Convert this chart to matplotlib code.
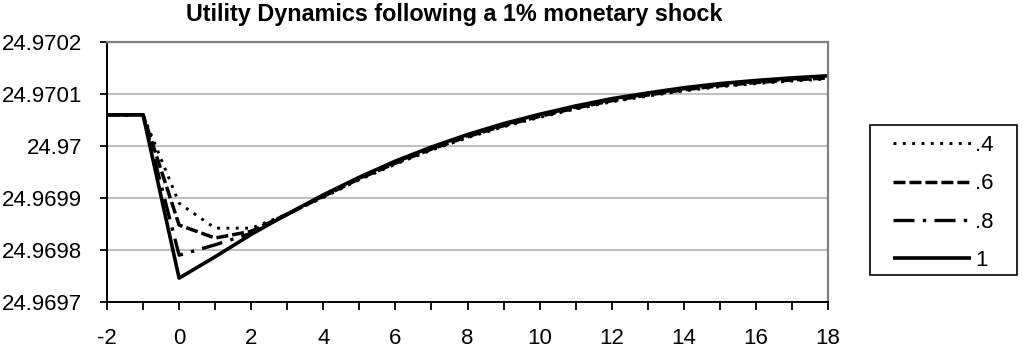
import matplotlib
matplotlib.use("Agg")
import matplotlib.pyplot as plt
from matplotlib.ticker import MultipleLocator, FuncFormatter
from matplotlib.patches import Rectangle

plt.rcParams['font.family'] = ['Liberation Sans', 'DejaVu Sans']
plt.rcParams['axes.unicode_minus'] = False

periods = list(range(-2, 19))
labels = [".4", ".6", ".8", "1"]
u_04 = [24.97006, 24.97006, 24.969890, 24.969842, 24.969842, 24.969869, 24.969901,
        24.969935, 24.969965, 24.969992, 24.970016, 24.970037, 24.970055, 24.970071,
        24.970085, 24.970096, 24.970106, 24.970114, 24.970120, 24.970125, 24.970129]
u_06 = [24.97006, 24.97006, 24.969848, 24.969823, 24.969836, 24.969869, 24.969903,
        24.969937, 24.969967, 24.969994, 24.970018, 24.970039, 24.970057, 24.970073,
        24.970087, 24.970098, 24.970108, 24.970116, 24.970122, 24.970127, 24.970131]
u_08 = [24.97006, 24.97006, 24.969790, 24.969810, 24.969832, 24.969868, 24.969904,
        24.969938, 24.969969, 24.969996, 24.970020, 24.970041, 24.970059, 24.970075,
        24.970089, 24.970100, 24.970110, 24.970118, 24.970124, 24.970129, 24.970133]
u_10 = [24.97006, 24.97006, 24.969746, 24.969787, 24.969830, 24.969869, 24.969906,
        24.969940, 24.969971, 24.969998, 24.970022, 24.970043, 24.970061, 24.970077,
        24.970091, 24.970102, 24.970112, 24.970120, 24.970126, 24.970131, 24.970135]
series = [u_04, u_06, u_08, u_10]
styles = [dict(lw=2.1, ls=(0, (1, 2.2))),
          dict(lw=2.5, ls=(0, (3.45, 1.15))),
          dict(lw=2.4, ls=(0, (6.3, 2.5, 1, 2.5))),
          dict(lw=2.6, ls='-')]

W, H = 1024, 351
fig = plt.figure(figsize=(W / 100, H / 100), dpi=100)
ax = fig.add_axes([107 / W, 1 - 302 / H, (828 - 107) / W, (302 - 42) / H])

for s, lab, st in zip(series, labels, styles):
    ax.plot(periods, s, color='black', linewidth=st['lw'], linestyle=st['ls'],
            label=lab, solid_capstyle='butt', dash_capstyle='butt')

ax.set_xlim(-2, 18)
ax.set_ylim(24.9697, 24.9702)
ax.xaxis.set_major_locator(MultipleLocator(2))
ax.xaxis.set_minor_locator(MultipleLocator(1))
ax.yaxis.set_major_locator(MultipleLocator(0.0001))
ax.yaxis.set_major_formatter(FuncFormatter(lambda v, p: format(round(v, 4), '.6g')))
ax.grid(axis='y', color='#c0c0c0', linewidth=1.5)
ax.set_axisbelow(True)

for side in ['top', 'right']:
    ax.spines[side].set_color('#808080')
    ax.spines[side].set_linewidth(1.6)
for side in ['left', 'bottom']:
    ax.spines[side].set_color('black')
    ax.spines[side].set_linewidth(1.4)

ax.tick_params(axis='x', which='both', direction='out', length=6, width=1.3,
               labelsize=16, pad=13)
ax.tick_params(axis='y', which='major', direction='out', length=5, width=1.3,
               labelsize=16, pad=13)

fig.text(454 / W, 1 - 15 / H, "Utility Dynamics following a 1% monetary shock",
         ha='center', va='center', fontsize=16.8, fontweight='bold')

fig.patches.append(Rectangle((870 / W, 1 - 275 / H), (1017 - 870) / W, (275 - 125) / H,
                             transform=fig.transFigure, fill=False, edgecolor='black',
                             linewidth=1.2))
fig.legend(loc='upper left', bbox_to_anchor=(893 / W, 1 - 135 / H), frameon=False,
           fontsize=16, handlelength=3.5, handletextpad=0.2, labelspacing=0.78,
           borderpad=0, borderaxespad=0)

fig.savefig("out.png", dpi=100)
